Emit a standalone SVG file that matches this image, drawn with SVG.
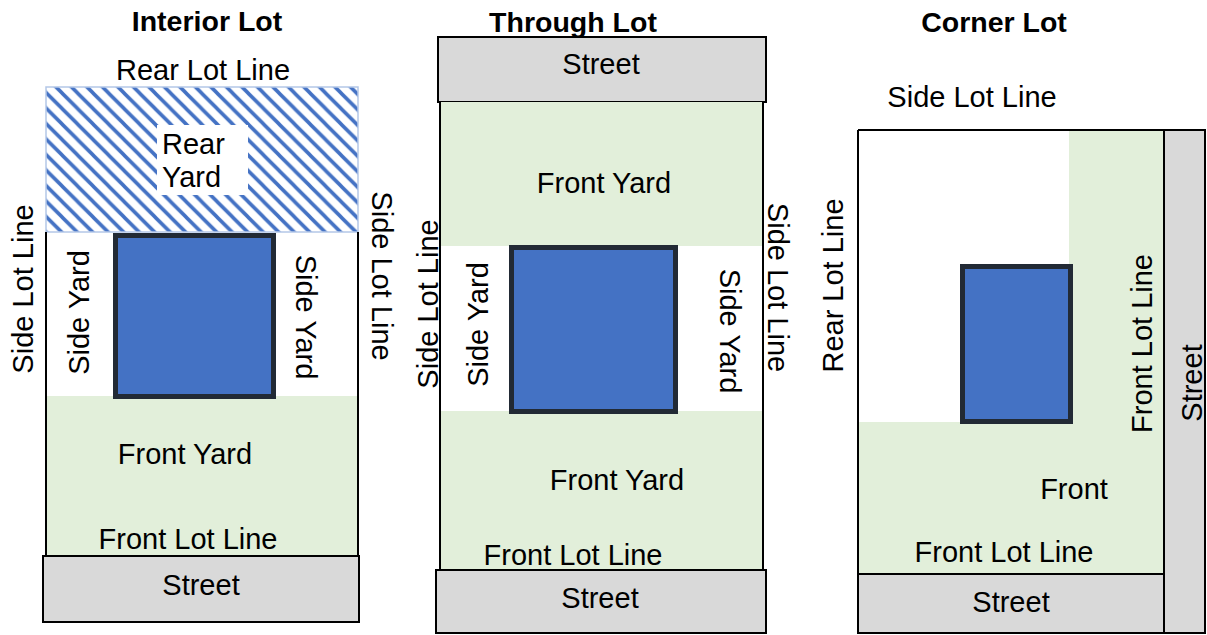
<svg xmlns="http://www.w3.org/2000/svg" width="1207" height="635" viewBox="0 0 1207 635">
  <style>
    text { font-family: "Liberation Sans", Arial, sans-serif; font-size: 29px; fill: #000; }
    .title { font-weight: bold; font-size: 28.5px; }
    .mid { text-anchor: middle; }
    .line { stroke: #000; stroke-width: 2; fill: none; }
    .street { fill: #d9d9d9; stroke: #000; stroke-width: 2; }
    .green { fill: #e2efda; }
    .bldg { fill: #4472c4; stroke: #222a35; stroke-width: 5; }
  </style>
  <defs>
    <pattern id="hatch" patternUnits="userSpaceOnUse" width="15.5" height="15.5">
      <rect width="15.5" height="15.5" fill="#fff"/>
      <path d="M-2,-2 L17.5,17.5 M13.5,-2 L17.5,2 M-2,13.5 L2,17.5" stroke="#4472c4" stroke-width="3.6"/>
    </pattern>
  </defs>
  <rect width="1207" height="635" fill="#fff"/>

  <!-- Interior Lot -->
  <g id="interior-lot">
    <text class="title mid" x="207" y="31">Interior Lot</text>
    <text class="mid" x="203" y="80">Rear Lot Line</text>
    <g id="interior-front-yard">
      <rect class="green" x="46" y="396" width="312" height="160"/>
      <text class="mid" x="185" y="464">Front Yard</text>
      <text class="mid" x="188" y="549">Front Lot Line</text>
    </g>
    <g id="interior-rear-yard">
      <rect x="46" y="87" width="312" height="145" fill="url(#hatch)" stroke="#b4c7e7" stroke-width="1.5"/>
      <rect x="157" y="125" width="91" height="70" fill="#fff"/>
      <text x="162" y="154">Rear</text>
      <text x="162" y="187">Yard</text>
    </g>
    <path class="line" d="M46,232 V556 M358,232 V556"/>
    <rect id="interior-building" class="bldg" x="115.5" y="235.5" width="158" height="161"/>
    <text transform="translate(89,312.5) rotate(-90)" class="mid">Side Yard</text>
    <text transform="translate(296,317) rotate(90)" class="mid">Side Yard</text>
    <text transform="translate(33,289) rotate(-90)" class="mid">Side Lot Line</text>
    <text transform="translate(372,276) rotate(90)" class="mid">Side Lot Line</text>
    <g id="interior-street">
      <rect class="street" x="43" y="556" width="316" height="66"/>
      <text class="mid" x="201" y="595">Street</text>
    </g>
  </g>

  <!-- Through Lot -->
  <g id="through-lot">
    <text class="title mid" x="573" y="32">Through Lot</text>
    <g id="through-street-top">
      <rect class="street" x="438" y="37" width="328" height="65"/>
      <text class="mid" x="601" y="74">Street</text>
    </g>
    <rect class="green" x="440" y="102" width="323" height="144"/>
    <rect class="green" x="440" y="411" width="323" height="159"/>
    <path class="line" d="M440,102 V570 M763,102 V570"/>
    <rect id="through-building" class="bldg" x="511.5" y="247.5" width="164" height="164"/>
    <text class="mid" x="604" y="193">Front Yard</text>
    <text class="mid" x="617" y="490">Front Yard</text>
    <text class="mid" x="573" y="565">Front Lot Line</text>
    <text transform="translate(438,304) rotate(-90)" class="mid">Side Lot Line</text>
    <text transform="translate(488,324.5) rotate(-90)" class="mid">Side Yard</text>
    <text transform="translate(720,331) rotate(90)" class="mid">Side Yard</text>
    <text transform="translate(768,287.5) rotate(90)" class="mid">Side Lot Line</text>
    <g id="through-street-bottom">
      <rect class="street" x="436" y="570" width="330" height="63"/>
      <text class="mid" x="600" y="608">Street</text>
    </g>
  </g>

  <!-- Corner Lot -->
  <g id="corner-lot">
    <text class="title mid" x="994" y="32">Corner Lot</text>
    <text class="mid" x="972" y="107">Side Lot Line</text>
    <rect class="green" x="1069" y="130" width="95" height="444"/>
    <rect class="green" x="858" y="422" width="306" height="152"/>
    <path class="line" d="M858,130 H1164 M858,130 V574"/>
    <rect id="corner-building" class="bldg" x="962.5" y="266.5" width="108" height="155"/>
    <text transform="translate(843,285.5) rotate(-90)" class="mid">Rear Lot Line</text>
    <text transform="translate(1152,343.5) rotate(-90)" class="mid">Front Lot Line</text>
    <text class="mid" x="1074" y="499">Front</text>
    <text class="mid" x="1004" y="562">Front Lot Line</text>
    <g id="corner-street-right">
      <rect class="street" x="1164" y="130" width="41" height="503"/>
      <text transform="translate(1202,383) rotate(-90)" class="mid">Street</text>
    </g>
    <g id="corner-street-bottom">
      <rect class="street" x="858" y="574" width="306" height="59"/>
      <text class="mid" x="1011" y="612">Street</text>
    </g>
  </g>

  <g id="connectors"/>
</svg>
